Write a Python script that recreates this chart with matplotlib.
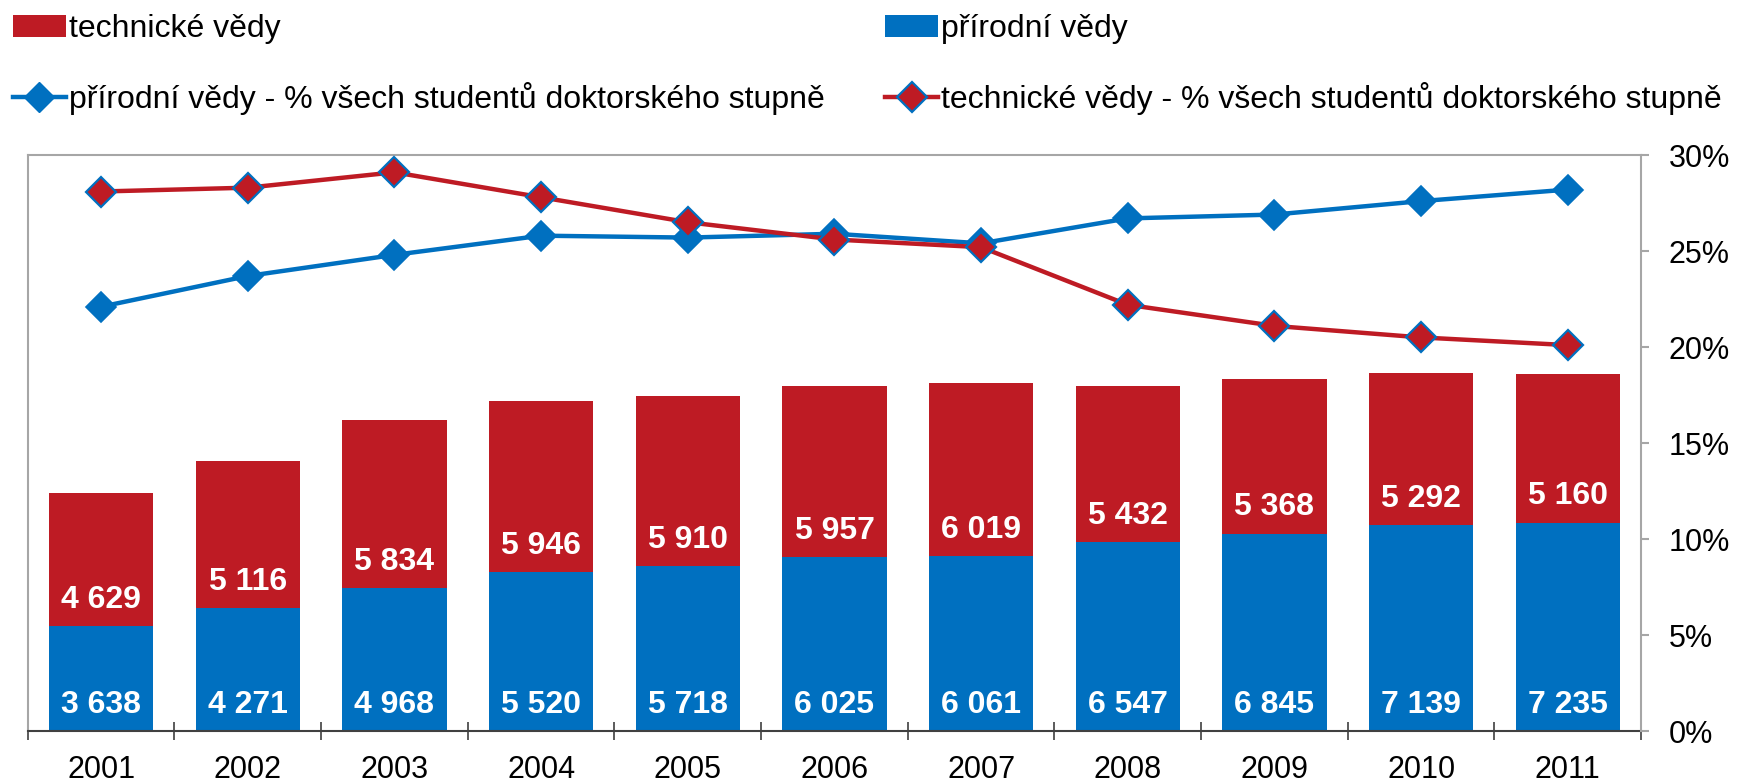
import matplotlib
matplotlib.use('Agg')
import matplotlib.pyplot as plt
from matplotlib.patches import Patch
from matplotlib.lines import Line2D
from matplotlib.ticker import FuncFormatter, FixedLocator

plt.rcParams['font.family'] = ['Liberation Sans', 'DejaVu Sans']

roky = ['2001', '2002', '2003', '2004', '2005', '2006', '2007', '2008', '2009', '2010', '2011']
prirodni = [3638, 4271, 4968, 5520, 5718, 6025, 6061, 6547, 6845, 7139, 7235]
technicke = [4629, 5116, 5834, 5946, 5910, 5957, 6019, 5432, 5368, 5292, 5160]
prirodni_pct = [22.1, 23.7, 24.8, 25.8, 25.7, 25.9, 25.4, 26.7, 26.9, 27.6, 28.2]
technicke_pct = [28.1, 28.3, 29.1, 27.8, 26.5, 25.6, 25.2, 22.2, 21.1, 20.5, 20.1]

MODRA = '#0070C0'
CERVENA = '#BE1B24'
SEDA = '#A6A6A6'
FS = 22

fig = plt.figure(figsize=(17.37, 7.83), dpi=100)
ax = fig.add_axes([0.016, 0.0664, 0.9288, 0.7356])
x = list(range(len(roky)))

ax.bar(x, prirodni, width=0.71, color=MODRA, zorder=2)
ax.bar(x, technicke, width=0.71, bottom=prirodni, color=CERVENA, zorder=2)

for i in x:
    ax.annotate(f'{prirodni[i]:,}'.replace(',', ' '), (i, 0), xytext=(0, 19),
                textcoords='offset points', ha='center', va='center',
                color='white', fontsize=23, fontweight='bold', zorder=3)
    ax.annotate(f'{technicke[i]:,}'.replace(',', ' '), (i, prirodni[i]), xytext=(0, 19),
                textcoords='offset points', ha='center', va='center',
                color='white', fontsize=23, fontweight='bold', zorder=3)

ax.set_xlim(-0.5, len(roky) - 0.5)
ax.set_ylim(0, 20000)
ax.set_yticks([])
ax.set_xticks(x)
ax.set_xticklabels(roky, fontsize=FS)
ax.xaxis.set_minor_locator(FixedLocator([i - 0.5 for i in range(len(roky) + 1)]))
ax.tick_params(axis='x', which='major', length=0, pad=17)
ax.tick_params(axis='x', which='minor', length=13, width=1.2, color='#404040', direction='inout')
for s in ['left', 'top']:
    ax.spines[s].set_color(SEDA)
    ax.spines[s].set_linewidth(1.5)
ax.spines['bottom'].set_color('#404040')
ax.spines['bottom'].set_linewidth(1.5)
ax.spines['right'].set_visible(False)

ax2 = ax.twinx()
ax2.plot(x, prirodni_pct, color=MODRA, lw=3.2, marker='D', ms=15,
         mfc=MODRA, mec=MODRA, mew=1.2, zorder=4)
ax2.plot(x, technicke_pct, color=CERVENA, lw=3.2, marker='D', ms=15,
         mfc=CERVENA, mec=MODRA, mew=1.6, zorder=4)
ax2.set_ylim(0, 30)
ax2.set_yticks([0, 5, 10, 15, 20, 25, 30])
ax2.yaxis.set_major_formatter(FuncFormatter(lambda v, p: f'{v:.0f}%'))
ax2.tick_params(axis='y', labelsize=FS, length=6, width=1.5, color=SEDA, pad=14)
for s in ['left', 'top', 'bottom']:
    ax2.spines[s].set_visible(False)
ax2.spines['right'].set_color(SEDA)
ax2.spines['right'].set_linewidth(1.5)

handles = [
    Patch(facecolor=CERVENA, edgecolor='none', label='technické vědy'),
    Line2D([], [], color=MODRA, lw=3.2, marker='D', ms=15, mfc=MODRA, mec=MODRA,
           label='přírodní vědy - % všech studentů doktorského stupně'),
    Patch(facecolor=MODRA, edgecolor='none', label='přírodní vědy'),
    Line2D([], [], color=CERVENA, lw=3.2, marker='D', ms=15, mfc=CERVENA, mec=MODRA, mew=1.6,
           label='technické vědy - % všech studentů doktorského stupně'),
]
fig.legend(handles=handles, ncol=2, loc='upper left', bbox_to_anchor=(0.0075, 0.982),
           frameon=False, fontsize=23, handlelength=1.65, handletextpad=0.1,
           columnspacing=1.9, labelspacing=1.2, borderpad=0, borderaxespad=0)

fig.savefig('out.png', dpi=100)
